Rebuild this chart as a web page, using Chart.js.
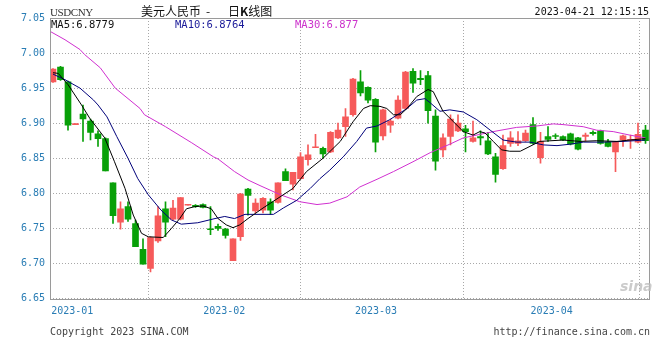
<!DOCTYPE html>
<html>
<head>
<meta charset="utf-8">
<script src="https://cdn.jsdelivr.net/npm/chart.js@4.4.0/dist/chart.umd.min.js"></script>
<style>
    html, body { margin: 0; padding: 0; background: #fff; }
    #wrap { position: relative; width: 660px; height: 360px; overflow: hidden; }
    #kline { position: absolute; left: 0; top: 0; }
    .txt { position: absolute; white-space: pre; line-height: 12px; font-family: 'DejaVu Sans Mono', monospace; font-size: 10px; }
</style>
</head>
<body>
<div id="wrap">
    <canvas id="kline" width="660" height="360"></canvas>
    <div class="txt" style="left:50px; top:6px; font-family:'Liberation Serif', serif; font-size:11px; letter-spacing:-0.4px; color:#333;">USDCNY</div>
    <div class="txt" style="left:141px; top:5px; font-family:'Noto Sans CJK SC', sans-serif; font-size:12px; color:#111;">美元人民币</div>
    <div class="txt" style="left:206px; top:5px; font-family:'Noto Sans CJK SC', sans-serif; font-size:12px; color:#111;">-</div>
    <div class="txt" style="left:228px; top:5px; font-family:'Noto Sans CJK SC', sans-serif; font-size:12px; color:#111;">日<b>K</b>线图</div>
    <div class="txt" style="right:11px; top:6px; color:#111;">2023-04-21 12:15:15</div>
    <div class="txt" id="ma5Label" style="left:51px; top:18px; font-size:10.5px; color:#111;"></div>
    <div class="txt" id="ma10Label" style="left:175px; top:18px; font-size:10.5px; color:#1a1a99;"></div>
    <div class="txt" id="ma30Label" style="left:295px; top:18px; font-size:10.5px; color:#cc33cc;"></div>
    <div class="txt" style="left:620px; top:280px; font-family:'DejaVu Sans', sans-serif; font-size:14px; font-style:italic; font-weight:bold; color:rgba(190,190,190,0.8);">sina</div>
    <div class="txt" style="left:50px; top:326px; color:#444;">Copyright 2023 SINA.COM</div>
    <div class="txt" style="right:10px; top:326px; color:#444;">http://finance.sina.com.cn</div>
</div>
<script>
(function() {
    'use strict';

    // daily candles, 2023-01 .. 2023-04-21
    const opens = [6.959, 6.980, 6.959, 6.898, 6.913, 6.903, 6.885, 6.878, 6.815, 6.759,
        6.781, 6.757, 6.720, 6.693, 6.732, 6.778, 6.763, 6.763, 6.783, 6.783,
        6.784, 6.749, 6.753, 6.749, 6.704, 6.738, 6.806, 6.775, 6.776, 6.788,
        6.787, 6.831, 6.813, 6.821, 6.848, 6.865, 6.864, 6.859, 6.879, 6.895,
        6.912, 6.959, 6.951, 6.934, 6.882, 6.897, 6.907, 6.921, 6.974, 6.964,
        6.968, 6.910, 6.862, 6.881, 6.889, 6.892, 6.874, 6.881, 6.875, 6.852,
        6.835, 6.871, 6.871, 6.875, 6.898, 6.851, 6.881, 6.8815, 6.881, 6.885,
        6.879, 6.881, 6.887, 6.889, 6.873, 6.859, 6.876, 6.8755, 6.873, 6.890];
    const closes = [6.977, 6.962, 6.897, 6.899, 6.906, 6.887, 6.878, 6.832, 6.768, 6.778,
        6.763, 6.724, 6.699, 6.737, 6.768, 6.759, 6.779, 6.794, 6.7835, 6.781,
        6.780, 6.748, 6.750, 6.740, 6.735, 6.799, 6.797, 6.786, 6.793, 6.776,
        6.815, 6.818, 6.830, 6.852, 6.855, 6.866, 6.856, 6.887, 6.890, 6.909,
        6.963, 6.943, 6.933, 6.873, 6.919, 6.903, 6.933, 6.973, 6.957, 6.962,
        6.918, 6.846, 6.879, 6.906, 6.900, 6.888, 6.879, 6.879, 6.856, 6.827,
        6.868, 6.879, 6.875, 6.886, 6.871, 6.874, 6.877, 6.881, 6.876, 6.870,
        6.863, 6.883, 6.885, 6.871, 6.867, 6.873, 6.882, 6.876, 6.884, 6.875];
    const highs = [6.978, 6.981, 6.960, 6.899, 6.926, 6.906, 6.889, 6.879, 6.815, 6.788,
        6.788, 6.762, 6.735, 6.738, 6.781, 6.788, 6.790, 6.794, 6.784, 6.784,
        6.785, 6.781, 6.756, 6.750, 6.735, 6.800, 6.807, 6.792, 6.794, 6.792,
        6.815, 6.835, 6.830, 6.858, 6.869, 6.884, 6.866, 6.888, 6.900, 6.921,
        6.964, 6.975, 6.952, 6.935, 6.920, 6.906, 6.939, 6.974, 6.978, 6.975,
        6.974, 6.919, 6.885, 6.912, 6.912, 6.897, 6.903, 6.889, 6.887, 6.857,
        6.883, 6.888, 6.888, 6.890, 6.908, 6.887, 6.895, 6.885, 6.882, 6.886,
        6.880, 6.886, 6.889, 6.890, 6.877, 6.874, 6.883, 6.883, 6.900, 6.897];
    const lows = [6.958, 6.961, 6.890, 6.898, 6.874, 6.876, 6.867, 6.832, 6.757, 6.749,
        6.760, 6.724, 6.699, 6.688, 6.730, 6.738, 6.762, 6.762, 6.783, 6.780,
        6.779, 6.741, 6.747, 6.736, 6.704, 6.733, 6.769, 6.772, 6.772, 6.770,
        6.786, 6.818, 6.805, 6.820, 6.840, 6.865, 6.850, 6.858, 6.878, 6.881,
        6.910, 6.939, 6.929, 6.859, 6.876, 6.887, 6.906, 6.920, 6.944, 6.955,
        6.900, 6.833, 6.852, 6.869, 6.888, 6.859, 6.873, 6.869, 6.855, 6.816,
        6.834, 6.867, 6.868, 6.874, 6.870, 6.843, 6.874, 6.878, 6.875, 6.869,
        6.862, 6.875, 6.883, 6.870, 6.866, 6.831, 6.867, 6.864, 6.872, 6.871];

    // moving averages (x = candle index)
    const ma5Idx = [0, 0.7, 2, 3.8, 4.9, 6.9, 8.2, 9.6, 10.7, 11.8, 12.7, 14.7, 15.8, 16.9, 17.8, 18.9, 20, 21.1, 22, 23.1,
        24, 24.9, 26, 28, 30, 32, 33.8, 36, 38.3, 40, 41.4, 42.3, 43.6, 44.5, 45.4, 46.3, 47.2, 48.5, 50, 50.7,
        52, 53.4, 54.7, 56, 56.9, 57.6, 58.7, 59.8, 60.9, 62.3, 63.6, 64.9, 68, 70.3, 72.5, 75.2, 76.9, 79];
    const ma5Val = [6.972, 6.971, 6.955, 6.926, 6.907, 6.879, 6.845, 6.807, 6.769, 6.743, 6.738, 6.737, 6.750, 6.764, 6.778, 6.781, 6.782, 6.778, 6.764, 6.755,
        6.751, 6.755, 6.764, 6.779, 6.793, 6.807, 6.831, 6.850, 6.874, 6.902, 6.921, 6.925, 6.924, 6.921, 6.912, 6.912, 6.921, 6.938, 6.948, 6.945,
        6.917, 6.902, 6.888, 6.883, 6.888, 6.886, 6.874, 6.862, 6.860, 6.860, 6.867, 6.874, 6.876, 6.874, 6.875, 6.874, 6.876, 6.878];
    const ma10Idx = [0, 1.6, 3.6, 5.4, 6, 7.2, 8.5, 10, 11.3, 12.7, 14.4, 15.8, 17.1, 19.3, 21.6, 22.9, 24.2, 25.6, 29.4, 30.7,
        32.5, 34.3, 35.6, 36.9, 38.7, 40.5, 41.8, 43.2, 44.9, 47.2, 48.5, 49.6, 50.3, 51.6, 52.9, 54.7, 56.5, 58.3, 60, 61.8,
        63.6, 65.4, 67.2, 68.9, 70.7, 73.4, 76, 79];
    const ma10Val = [6.970, 6.962, 6.950, 6.933, 6.926, 6.909, 6.881, 6.850, 6.821, 6.798, 6.776, 6.762, 6.756, 6.758, 6.764, 6.767, 6.764, 6.770, 6.770, 6.779,
        6.790, 6.807, 6.821, 6.833, 6.852, 6.874, 6.893, 6.896, 6.905, 6.921, 6.933, 6.935, 6.929, 6.917, 6.919, 6.916, 6.905, 6.890, 6.876, 6.873,
        6.873, 6.869, 6.868, 6.870, 6.873, 6.873, 6.874, 6.876];
    const ma30Idx = [-0.4, 1.6, 3.6, 4.2, 6.3, 8.3, 11.6, 12.2, 15, 18.5, 21.4, 22, 24.2, 26, 27.6, 30.3, 32.9, 35.2, 36.9, 39.2,
        40.9, 43.2, 45.4, 48, 50.3, 52.9, 54.7, 56.9, 59.2, 61.8, 64.5, 66.7, 68, 70.7, 72.5, 74.7, 76.9, 79];
    const ma30Val = [7.031, 7.019, 7.005, 6.998, 6.979, 6.950, 6.921, 6.912, 6.895, 6.872, 6.852, 6.849, 6.831, 6.819, 6.811, 6.798, 6.788, 6.784, 6.786, 6.795,
        6.809, 6.820, 6.831, 6.845, 6.858, 6.870, 6.879, 6.884, 6.889, 6.894, 6.896, 6.899, 6.898, 6.895, 6.890, 6.888, 6.883, 6.879];

    const maLast = { ma5: '6.8779', ma10: '6.8764', ma30: '6.877' };

    const monthLabels = ['2023-01', '2023-02', '2023-03', '2023-04'];
    const monthPos = [2.57, 22.84, 43.07, 66.49];

    const UP = 'rgb(246, 90, 90)';
    const DOWN = 'rgb(8, 160, 8)';
    const AXIS_TXT = '#2a7db5';
    const GRID = '#a8a8a8';

    document.getElementById('ma5Label').textContent = 'MA5:' + maLast.ma5;
    document.getElementById('ma10Label').textContent = 'MA10:' + maLast.ma10;
    document.getElementById('ma30Label').textContent = 'MA30:' + maLast.ma30;

    const candleColors = opens.map(function(o, i) { return closes[i] >= o ? UP : DOWN; });
    const bodies = opens.map(function(o, i) { return { x: i, y: [o, closes[i]] }; });
    const wicks = lows.map(function(l, i) { return { x: i, y: [l, highs[i]] }; });
    function pts(xs, ys) { return xs.map(function(x, i) { return { x: x, y: ys[i] }; }); }

    function lineSet(data, color) {
        return {
            type: 'line', data: data, borderColor: color, borderWidth: 1,
            pointRadius: 0, tension: 0, fill: false
        };
    }

    const framePlugin = {
        id: 'frame',
        afterDraw: function(chart) {
            const a = chart.chartArea;
            const ctx = chart.ctx;
            ctx.save();
            ctx.strokeStyle = '#9a9a9a';
            ctx.lineWidth = 1;
            ctx.strokeRect(Math.round(a.left) + 0.5, Math.round(a.top) + 0.5,
                Math.round(a.right - a.left) - 1, Math.round(a.bottom - a.top));
            ctx.restore();
        }
    };

    new Chart(document.getElementById('kline'), {
        type: 'bar',
        data: {
            datasets: [
                lineSet(pts(ma5Idx, ma5Val), '#000000'),
                lineSet(pts(ma10Idx, ma10Val), '#00007a'),
                lineSet(pts(ma30Idx, ma30Val), '#d030d0'),
                {
                    data: bodies, backgroundColor: candleColors, borderWidth: 0,
                    barThickness: 6, minBarLength: 1, grouped: false
                },
                {
                    data: wicks, backgroundColor: candleColors, borderWidth: 0,
                    barThickness: 1, grouped: false
                }
            ]
        },
        options: {
            responsive: false,
            animation: false,
            devicePixelRatio: 1,
            layout: { padding: { left: 0, top: 18, right: 10, bottom: 0 } },
            plugins: {
                legend: { display: false },
                tooltip: { enabled: false }
            },
            scales: {
                x: {
                    type: 'linear',
                    min: -0.4,
                    max: 79.6,
                    offset: false,
                    afterBuildTicks: function(scale) {
                        scale.ticks = monthPos.map(function(v) { return { value: v }; });
                    },
                    afterFit: function(scale) { scale.height = 61.5; },
                    ticks: {
                        autoSkip: false,
                        maxRotation: 0,
                        padding: 7,
                        color: AXIS_TXT,
                        font: { family: 'DejaVu Sans Mono', size: 10 },
                        callback: function(value, index) { return monthLabels[index]; }
                    },
                    grid: { color: GRID, drawTicks: false, tickLength: 0 },
                    border: { display: false, dash: [1, 2] }
                },
                y: {
                    min: 6.65,
                    max: 7.05,
                    afterFit: function(scale) { scale.width = 50; },
                    ticks: {
                        stepSize: 0.05,
                        padding: 5,
                        color: AXIS_TXT,
                        font: { family: 'DejaVu Sans Mono', size: 10 },
                        callback: function(value) { return value.toFixed(2); }
                    },
                    grid: { color: GRID, drawTicks: false, tickLength: 0 },
                    border: { display: false, dash: [1, 2] }
                }
            }
        },
        plugins: [framePlugin]
    });
})();
</script>
</body>
</html>
